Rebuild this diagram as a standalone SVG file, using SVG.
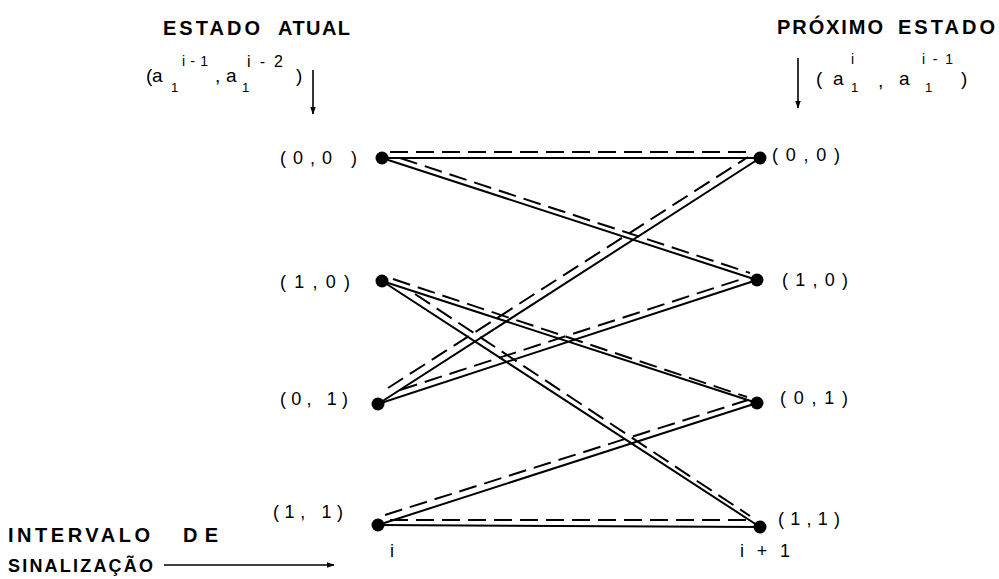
<svg xmlns="http://www.w3.org/2000/svg" width="999" height="579" viewBox="0 0 999 579">
<defs>
<marker id="ah" viewBox="0 0 10 10" refX="9" refY="5" markerWidth="8" markerHeight="8" markerUnits="userSpaceOnUse" orient="auto">
<path d="M0,1.5 L10,5 L0,8.5 z" fill="#000"/>
</marker>
<style>
.t{font-family:"Liberation Sans","DejaVu Sans",sans-serif;fill:#000}
.h{font-size:20px;font-weight:bold}
.n{font-size:18px}
.m{font-size:19px}
.s{font-size:13px}
.p{font-size:14px}
.sol{stroke:#000;stroke-width:2;fill:none}
.dsh{stroke:#000;stroke-width:2;fill:none;stroke-dasharray:18 8}
.ar{stroke:#000;stroke-width:1.6;fill:none;marker-end:url(#ah)}
.dot{fill:#000}
</style>
</defs>
<rect width="999" height="579" fill="#fff"/>

<g id="header-left">
<text class="t h" x="163" y="35" textLength="97" lengthAdjust="spacing">ESTADO</text>
<text class="t h" x="278" y="35" textLength="72" lengthAdjust="spacing">ATUAL</text>
<text class="t m" x="146" y="82">(</text>
<text class="t m" x="152" y="82">a</text>
<text class="t s" x="171" y="92">1</text>
<text class="t p" x="182" y="66" textLength="26" lengthAdjust="spacing">i-1</text>
<text class="t m" x="215" y="82">,</text>
<text class="t m" x="226" y="82">a</text>
<text class="t s" x="242" y="92">1</text>
<text class="t p" x="247" y="67" textLength="36" lengthAdjust="spacing" style="font-size:16px">i-2</text>
<text class="t m" x="296" y="82">)</text>
<line class="ar" x1="313" y1="70" x2="313" y2="114"/>
</g>

<g id="header-right">
<text class="t h" x="777" y="34" textLength="106" lengthAdjust="spacing">PRÓXIMO</text>
<text class="t h" x="898" y="34" textLength="97" lengthAdjust="spacing">ESTADO</text>
<text class="t m" x="816" y="85">(</text>
<text class="t m" x="833" y="85">a</text>
<text class="t p" x="851" y="64">i</text>
<text class="t s" x="851" y="92">1</text>
<text class="t m" x="878" y="87">,</text>
<text class="t m" x="899" y="85">a</text>
<text class="t p" x="922" y="64" textLength="31" lengthAdjust="spacing">i-1</text>
<text class="t s" x="925" y="92">1</text>
<text class="t m" x="961" y="85">)</text>
<line class="ar" x1="798" y1="58" x2="798" y2="108"/>
</g>

<g id="footer">
<text class="t h" x="8" y="542" textLength="142" lengthAdjust="spacing">INTERVALO</text>
<text class="t h" x="183" y="542" textLength="35" lengthAdjust="spacing">DE</text>
<text class="t h" x="8" y="572" textLength="145" lengthAdjust="spacing" style="font-size:18px">SINALIZAÇÃO</text>
<line class="ar" x1="164" y1="565" x2="334" y2="565"/>
<text class="t n" x="390" y="557">i</text>
<text class="t n" x="740" y="557" textLength="50" lengthAdjust="spacing">i+1</text>
</g>

<g id="connectors">
<line class="sol" x1="382" y1="158" x2="760" y2="158"/>
<line class="dsh" x1="390" y1="152" x2="752" y2="152"/>
<line class="sol" x1="382" y1="158" x2="757" y2="280"/>
<line class="dsh" x1="400" y1="158" x2="750" y2="273"/>
<line class="sol" x1="382" y1="281" x2="757" y2="403"/>
<line class="dsh" x1="393" y1="279" x2="747" y2="397"/>
<line class="sol" x1="382" y1="281" x2="760" y2="527"/>
<line class="dsh" x1="415" y1="294" x2="750" y2="516"/>
<line class="sol" x1="378" y1="404" x2="760" y2="158"/>
<line class="dsh" x1="388" y1="388" x2="748" y2="157"/>
<line class="sol" x1="378" y1="404" x2="757" y2="280"/>
<line class="dsh" x1="400" y1="390" x2="745" y2="278"/>
<line class="sol" x1="378" y1="525" x2="757" y2="403"/>
<line class="dsh" x1="385" y1="515" x2="748" y2="400"/>
<line class="sol" x1="378" y1="525" x2="760" y2="527"/>
<line class="dsh" x1="390" y1="520" x2="752" y2="520"/>
</g>

<g id="L00"><circle class="dot" cx="382" cy="158" r="6.5"/><text class="t n" x="280" y="164" textLength="77" lengthAdjust="spacing">(0,0 )</text></g>
<g id="L10"><circle class="dot" cx="382" cy="281" r="6.5"/><text class="t n" x="280" y="288" textLength="70" lengthAdjust="spacing">(1,0)</text></g>
<g id="L01"><circle class="dot" cx="378" cy="404" r="6.5"/><text class="t n" x="280" y="405" textLength="68" lengthAdjust="spacing">(0, 1)</text></g>
<g id="L11"><circle class="dot" cx="378" cy="525" r="6.5"/><text class="t n" x="273" y="518" textLength="70" lengthAdjust="spacing">(1, 1)</text></g>
<g id="R00"><circle class="dot" cx="760" cy="158" r="6.5"/><text class="t n" x="772" y="161" textLength="68" lengthAdjust="spacing">(0,0)</text></g>
<g id="R10"><circle class="dot" cx="757" cy="280" r="6.5"/><text class="t n" x="782" y="286" textLength="66" lengthAdjust="spacing">(1,0)</text></g>
<g id="R01"><circle class="dot" cx="757" cy="403" r="6.5"/><text class="t n" x="780" y="404" textLength="68" lengthAdjust="spacing">(0,1)</text></g>
<g id="R11"><circle class="dot" cx="760" cy="527" r="6.5"/><text class="t n" x="778" y="525" textLength="62" lengthAdjust="spacing">(1,1)</text></g>
</svg>
